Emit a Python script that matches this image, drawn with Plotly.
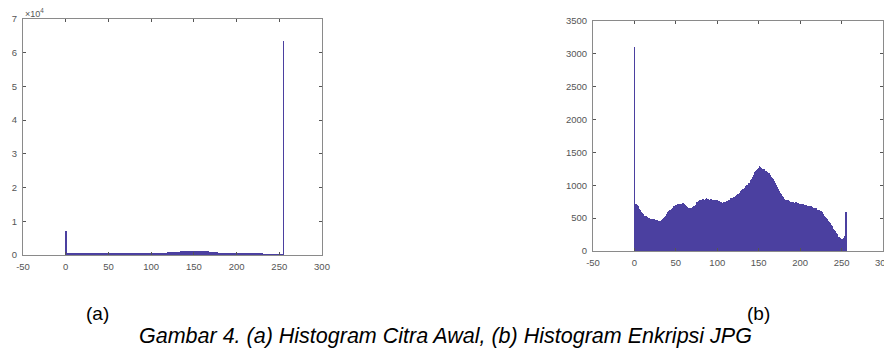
import plotly.graph_objects as go

# Pixel intensity levels (bins)
levels = list(range(256))

# (a) Histogram of the original image (counts)
hist_a = [
    7000,
    320, 300, 310, 290, 300, 280, 310, 300, 290, 300,
    310, 290, 300, 320, 300, 290, 310, 300, 320, 310,
    300, 330, 320, 310, 330, 340, 320, 330, 350, 340,
    360, 350, 340, 370, 360, 380, 370, 390, 400, 420,
    440, 460, 480, 500, 520, 540, 560, 580, 600, 620,
    630, 620, 640, 630, 650, 640, 630, 620, 640, 630,
    620, 610, 600, 590, 580, 590, 600, 580, 590, 600,
    610, 620, 600, 630, 640, 620, 650, 660, 640, 650,
    660, 670, 650, 640, 660, 670, 680, 660, 650, 640,
    630, 650, 640, 630, 620, 640, 650, 630, 620, 610,
    600, 620, 610, 590, 600, 610, 620, 600, 630, 640,
    650, 660, 640, 670, 680, 690, 700, 720, 740, 760,
    780, 800, 820, 850, 870, 890, 910, 930, 950, 970,
    990, 1000, 1010, 1030, 1040, 1050, 1060, 1080, 1090, 1100,
    1110, 1120, 1140, 1150, 1160, 1170, 1180, 1190, 1200, 1210,
    1220, 1200, 1230, 1210, 1220, 1240, 1230, 1220, 1210, 1200,
    1180, 1160, 1140, 1120, 1100, 1080, 1050, 1020, 990, 960,
    930, 900, 870, 840, 810, 780, 760, 740, 720, 700,
    680, 670, 660, 650, 640, 630, 620, 610, 600, 590,
    580, 570, 560, 550, 560, 540, 550, 530, 540, 520,
    530, 510, 520, 500, 510, 490, 500, 480, 490, 470,
    480, 460, 470, 450, 460, 440, 430, 420, 410, 400,
    390, 380, 370, 360, 350, 340, 330, 320, 310, 300,
    290, 280, 270, 260, 250, 240, 230, 220, 210, 200,
    190, 180, 170, 160, 150, 140, 130, 120, 110, 100,
    100, 90, 90, 100,
    63500,
]

# (b) Histogram of the JPG encryption (counts)
hist_b = [
    3100,
    690, 710, 700, 680, 650, 640, 620, 600, 580, 560,
    550, 540, 520, 530, 510, 500, 490, 500, 480, 490,
    470, 480, 490, 480, 470, 460, 470, 450, 460, 450,
    460, 450, 470, 480, 490, 500, 520, 540, 560, 580,
    600, 610, 620, 630, 640, 650, 660, 680, 690, 700,
    690, 710, 700, 720, 710, 700, 720, 710, 730, 720,
    700, 680, 670, 660, 650, 660, 640, 650, 660, 650,
    670, 680, 690, 700, 720, 740, 750, 760, 770, 760,
    780, 770, 790, 780, 770, 790, 800, 780, 790, 770,
    780, 790, 770, 780, 760, 780, 770, 760, 770, 770,
    750, 760, 740, 730, 740, 720, 730, 740, 720, 730,
    740, 760, 750, 770, 780, 790, 800, 810, 800, 820,
    820, 830, 840, 850, 860, 870, 890, 900, 910, 930,
    940, 950, 960, 980, 990, 1000, 1010, 1030, 1040, 1050,
    1080, 1100, 1130, 1160, 1180, 1200, 1220, 1240, 1250, 1260,
    1300, 1280, 1270, 1250, 1240, 1250, 1230, 1220, 1210, 1200,
    1190, 1180, 1170, 1150, 1130, 1110, 1090, 1070, 1050, 1030,
    1000, 970, 950, 920, 900, 880, 860, 840, 820, 800,
    790, 780, 770, 760, 770, 750, 760, 740, 750, 740,
    730, 740, 720, 730, 740, 720, 730, 710, 720, 720,
    710, 720, 700, 710, 700, 690, 700, 690, 680, 690,
    680, 670, 680, 660, 670, 650, 660, 640, 650, 630,
    620, 610, 620, 600, 610, 590, 570, 560, 540, 520,
    500, 490, 470, 460, 440, 420, 400, 380, 360, 340,
    320, 300, 280, 260, 240, 220, 210, 200, 190, 180,
    180, 190, 200, 230,
    600,
]

x_ticks = [-50, 0, 50, 100, 150, 200, 250, 300]
x_ticktext = ["-50", "0", "50", "100", "150", "200", "250", "300"]
a_ticks = [0, 10000, 20000, 30000, 40000, 50000, 60000, 70000]
a_ticktext = ["0", "1", "2", "3", "4", "5", "6", "7"]
b_ticks = [0, 500, 1000, 1500, 2000, 2500, 3000, 3500]

W, H = 892, 353
OFF = 8  # the page body margin shifts the figure by 8 px right and down
bar_color = "#4b40a0"
axis_col = "#8a8a8a"
tick_font = dict(family="Liberation Sans, Arial, sans-serif", size=9.5, color="#555555")
cap_font = "Liberation Sans, Arial, sans-serif"


def px(x):
    return (x - OFF) / W


def py(y):
    return 1 - (y - OFF) / H


fig = go.Figure()
fig.add_trace(go.Bar(x=levels, y=hist_a, width=1, marker=dict(color=bar_color, line=dict(width=0)),
                     xaxis="x", yaxis="y", showlegend=False))
fig.add_trace(go.Bar(x=levels, y=hist_b, width=1, marker=dict(color=bar_color, line=dict(width=0)),
                     xaxis="x2", yaxis="y2", showlegend=False))

common_axis = dict(showline=True, linecolor=axis_col, linewidth=1, mirror="ticks",
                   ticks="inside", ticklen=3, tickcolor="#555555", tickwidth=1,
                   showgrid=False, zeroline=False, tickfont=tick_font,
                   automargin=False, ticklabelstandoff=3)

fig.update_layout(
    width=W, height=H,
    margin=dict(l=0, r=0, t=0, b=0, autoexpand=False),
    paper_bgcolor="white", plot_bgcolor="white",
    bargap=0,
    xaxis=dict(domain=[px(23), px(322)], range=[-50, 300], tickvals=x_ticks,
               ticktext=x_ticktext, anchor="y", **common_axis),
    yaxis=dict(domain=[py(255), py(19)], range=[0, 70000], tickvals=a_ticks,
               ticktext=a_ticktext, anchor="x", **common_axis),
    xaxis2=dict(domain=[px(593), px(883)], range=[-50, 300], tickvals=x_ticks,
                ticktext=x_ticktext, anchor="y2", **common_axis),
    yaxis2=dict(domain=[py(251), py(21)], range=[0, 3500], tickvals=b_ticks,
                anchor="x2", **common_axis),
    annotations=[
        dict(text="×10<sup>4</sup>", x=px(23), y=py(13), xref="paper", yref="paper",
             xanchor="left", yanchor="middle", showarrow=False,
             font=dict(family=cap_font, size=9, color="#555555")),
        dict(text="(a)", x=px(97), y=py(313), xref="paper", yref="paper",
             xanchor="center", yanchor="middle", showarrow=False,
             font=dict(family=cap_font, size=19, color="#000000")),
        dict(text="(b)", x=px(758), y=py(313), xref="paper", yref="paper",
             xanchor="center", yanchor="middle", showarrow=False,
             font=dict(family=cap_font, size=19, color="#000000")),
        dict(text="<i>Gambar 4. (a) Histogram Citra Awal, (b) Histogram Enkripsi JPG</i>",
             x=px(445.5), y=py(336), xref="paper", yref="paper",
             xanchor="center", yanchor="middle", showarrow=False,
             font=dict(family=cap_font, size=21.5, color="#000000")),
    ],
)

fig.write_html("out.html")
